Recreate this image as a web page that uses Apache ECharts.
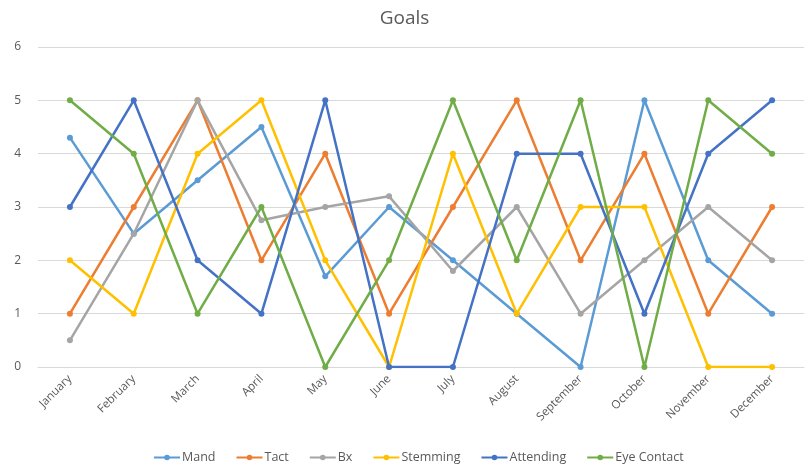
<!DOCTYPE html>
<html>
<head>
<meta charset="utf-8">
<script src="https://cdn.jsdelivr.net/npm/echarts@6/dist/echarts.min.js"></script>
<style>html,body{margin:0;padding:0;background:#fff}#c{width:809px;height:470px}</style>
</head>
<body>
<div id="c"></div>
<script>
var months = ['January','February','March','April','May','June','July','August','September','October','November','December'];
var mand = [4.3, 2.5, 3.5, 4.5, 1.7, 3, 2, 1, 0, 5, 2, 1];
var tact = [1, 3, 5, 2, 4, 1, 3, 5, 2, 4, 1, 3];
var bx = [0.5, 2.5, 5, 2.75, 3, 3.2, 1.8, 3, 1, 2, 3, 2];
var stemming = [2, 1, 4, 5, 2, 0, 4, 1, 3, 3, 0, 0];
var attending = [3, 5, 2, 1, 5, 0, 0, 4, 4, 1, 4, 5];
var eyeContact = [5, 4, 1, 3, 0, 2, 5, 2, 5, 0, 5, 4];
var yTicks = [0, 1, 2, 3, 4, 5, 6];

var names = ['Mand','Tact','Bx','Stemming','Attending','Eye Contact'];
var datas = [mand, tact, bx, stemming, attending, eyeContact];
var colors = ['#5B9BD5','#ED7D31','#A5A5A5','#FFC000','#4472C4','#70AD47'];

var chart = echarts.init(document.getElementById('c'));
chart.setOption({
  animation: false,
  title: {
    text: 'Goals', left: 'center', top: 4,
    textStyle: {fontFamily: 'Open Sans', fontSize: 19, fontWeight: 'normal', color: '#595959'}
  },
  legend: {
    bottom: 1, left: 148, itemGap: 20, itemWidth: 26, itemHeight: 7,
    textStyle: {fontFamily: 'Open Sans', fontSize: 12.5, color: '#595959', padding: [0,0,0,-3]},
    data: names
  },
  grid: {left: 38, right: 5, top: 47, bottom: 103, containLabel: false},
  xAxis: {
    type: 'category', data: months, boundaryGap: true,
    axisLine: {show: true, lineStyle: {color: '#D9D9D9'}},
    axisTick: {show: false},
    axisLabel: {rotate: 45, color: '#595959', fontFamily: 'Open Sans', fontSize: 11.5, margin: 10}
  },
  yAxis: {
    type: 'value', min: yTicks[0], max: yTicks[yTicks.length-1], interval: 1,
    axisLine: {show: false}, axisTick: {show: false},
    splitLine: {lineStyle: {color: '#D9D9D9', width: 1}},
    axisLabel: {color: '#595959', fontFamily: 'Open Sans', fontSize: 12, margin: 17}
  },
  series: names.map(function(n, i){
    return {
      name: n, type: 'line', data: datas[i],
      symbol: 'circle', symbolSize: 6,
      lineStyle: {width: 2.5, color: colors[i]},
      itemStyle: {color: colors[i]},
      z: 2 + i
    };
  })
});
</script>
</body>
</html>
